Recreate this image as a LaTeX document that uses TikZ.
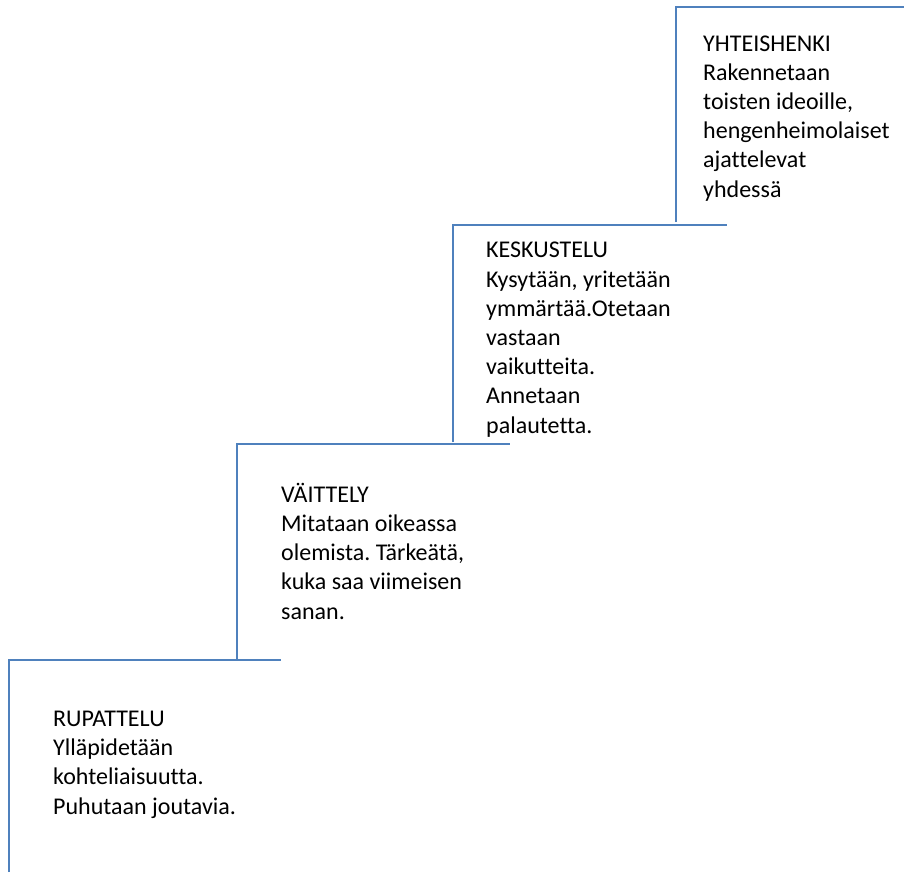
\documentclass[tikz,border=0pt]{standalone}
\usepackage{fontspec}
\setmainfont{Carlito}[Ligatures=NoCommon]
\frenchspacing
\definecolor{stepblue}{HTML}{4F81BD}
\tikzset{
  stair/.style={draw=stepblue, line width=1.5pt},
  % multi-line labels are placed by the baseline of their last line
  lbl/.style={anchor=base west, inner sep=0pt, align=left, text=black,
              font=\fontsize{24pt}{29.2pt}\selectfont}
}
\begin{document}
\begin{tikzpicture}[x=1pt,y=-1pt]
  \useasboundingbox (0,0) rectangle (904,872);
  % stair steps
  \coordinate (s1b) at (9,872);
  \coordinate (s1t) at (9,660);
  \coordinate (s1r) at (281,660);
  \coordinate (s2b) at (237,660);
  \coordinate (s2t) at (237,444);
  \coordinate (s2r) at (510,444);
  \coordinate (s3b) at (453,442);
  \coordinate (s3t) at (453,225);
  \coordinate (s3r) at (727,225);
  \coordinate (s4b) at (676,222);
  \coordinate (s4t) at (676,7);
  \coordinate (s4r) at (904,7);
  \draw[stair] (s1b) -- (s1t) -- (s1r);
  \draw[stair] (s2b) -- (s2t) -- (s2r);
  \draw[stair] (s3b) -- (s3t) -- (s3r);
  \draw[stair] (s4b) -- (s4t) -- (s4r);
  % step labels
  \node[lbl] (rupattelu) at (53,814) {RUPATTELU\\Ylläpidetään\\kohteliaisuutta.\\Puhutaan joutavia.};
  \node[lbl] (vaittely) at (281,619) {VÄITTELY\\Mitataan oikeassa\\olemista. Tärkeätä,\\kuka saa viimeisen\\sanan.};
  \node[lbl] (keskustelu) at (486,433) {KESKUSTELU\\Kysytään, yritetään\\ymmärtää.Otetaan\\vastaan\\vaikutteita.\\Annetaan\\palautetta.};
  \node[lbl] (yhteishenki) at (703,197) {YHTEISHENKI\\Rakennetaan\\toisten ideoille,\\hengenheimolaiset\\ajattelevat\\yhdessä};
\end{tikzpicture}
\end{document}
